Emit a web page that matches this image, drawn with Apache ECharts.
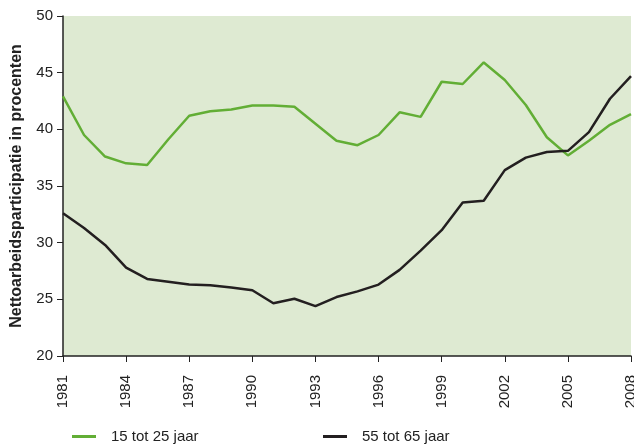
<!DOCTYPE html>
<html>
<head>
<meta charset="utf-8">
<script src="https://cdn.jsdelivr.net/npm/echarts@6/dist/echarts.min.js"></script>
<style>html,body{margin:0;padding:0;background:#fff}#c{width:634px;height:448px}</style>
</head>
<body>
<div id="c"></div>
<script>
const years = ['1981','1982','1983','1984','1985','1986','1987','1988','1989','1990','1991','1992','1993','1994','1995','1996','1997','1998','1999','2000','2001','2002','2003','2004','2005','2006','2007','2008'];
const young = [42.9,39.5,37.6,37.0,36.85,39.1,41.2,41.6,41.75,42.1,42.1,42.0,40.5,39.0,38.6,39.5,41.5,41.1,44.2,44.0,45.9,44.35,42.15,39.3,37.7,39.0,40.4,41.35];
const old = [32.6,31.3,29.8,27.8,26.8,26.55,26.3,26.25,26.05,25.8,24.65,25.05,24.4,25.2,25.7,26.3,27.6,29.3,31.1,33.55,33.7,36.4,37.5,38.0,38.1,39.75,42.7,44.7];
const seriesNames = ['15 tot 25 jaar','55 tot 65 jaar'];
const yTicks = [20,25,30,35,40,45,50];

const chart = echarts.init(document.getElementById('c'));
const font = 'Liberation Sans, Arial, sans-serif';
chart.setOption({
  animation:false,
  grid:{left:63,right:3,top:16,bottom:92,show:true,backgroundColor:'#deead2',borderWidth:0,outerBoundsMode:'none',containLabel:false},
  legend:[
    {data:[seriesNames[0]],left:72,top:429,padding:0,icon:'rect',itemWidth:24,itemHeight:3,textStyle:{fontFamily:font,fontSize:15,color:'#222',padding:[0,0,0,10]}},
    {data:[seriesNames[1]],left:323,top:429,padding:0,icon:'rect',itemWidth:24,itemHeight:3,textStyle:{fontFamily:font,fontSize:15,color:'#222',padding:[0,0,0,10]}}
  ],
  xAxis:{type:'category',data:years,boundaryGap:false,
    axisLine:{lineStyle:{color:'#222',width:1.5}},
    axisTick:{interval:2,length:6,lineStyle:{color:'#222',width:1}},
    axisLabel:{interval:2,rotate:90,margin:19,fontFamily:font,fontSize:15,color:'#222'}},
  yAxis:{type:'value',min:yTicks[0],max:yTicks[yTicks.length-1],interval:5,
    name:'Nettoarbeidsparticipatie in procenten',nameLocation:'middle',nameGap:38,
    nameTextStyle:{fontFamily:font,fontSize:16,fontWeight:'bold',color:'#222'},
    axisLine:{show:true,lineStyle:{color:'#222',width:1.5}},
    axisTick:{show:true,length:6,lineStyle:{color:'#222',width:1}},
    splitLine:{show:false},
    axisLabel:{margin:10,fontFamily:font,fontSize:15,color:'#222'}},
  series:[
    {name:seriesNames[0],type:'line',data:young,symbol:'none',lineStyle:{color:'#62ae35',width:2.5},itemStyle:{color:'#62ae35'}},
    {name:seriesNames[1],type:'line',data:old,symbol:'none',lineStyle:{color:'#231f20',width:2.5},itemStyle:{color:'#231f20'}}
  ]
});
</script>
</body>
</html>
